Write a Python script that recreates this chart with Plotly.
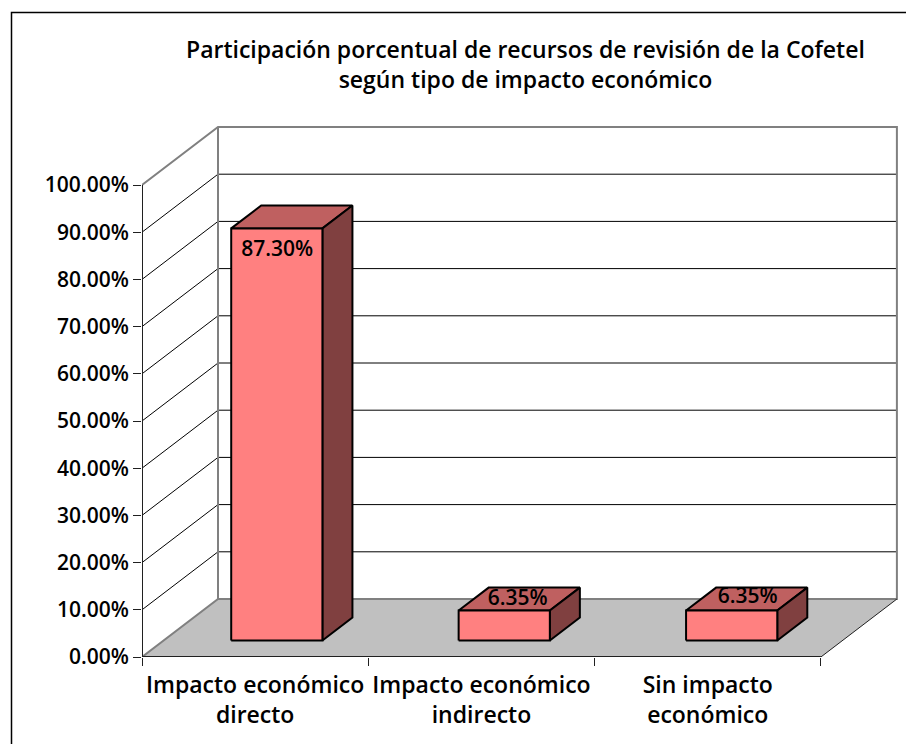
import plotly.graph_objects as go

categories = ["Impacto económico<br>directo", "Impacto económico<br>indirecto", "Sin impacto<br>económico"]
values = [87.30, 6.35, 6.35]
value_labels = ["87.30%", "6.35%", "6.35%"]
y_ticks = [0, 10, 20, 30, 40, 50, 60, 70, 80, 90, 100]
title_text = "Participación porcentual de recursos de revisión de la Cofetel<br>según tipo de impacto económico"

PAGE = 8                       # browser's default body margin
W, H = 914 - PAGE, 744 - PAGE
ML, MB = 142 - PAGE, 87
PX_X, PX_Y = 226.3, 4.72       # pixels per category / per percent
DX, DY = 76 / PX_X, 58 / PX_Y  # oblique depth vector, axis units
BAR_W, D0, D1 = 0.403, 0.285, 0.68
BAR_DRIFT = 0.005
FONT = "Open Sans"
WEIGHT = 600


def proj(x, y, d=0.0):
    return x + d * DX, y + d * DY


def poly(points, fill=None, color="#000000", width=1, close=False):
    pts = [proj(*p) for p in points]
    if close:
        pts.append(pts[0])
    return go.Scatter(
        x=[p[0] for p in pts], y=[p[1] for p in pts], mode="lines",
        line=dict(color=color, width=width), fill="toself" if fill else None,
        fillcolor=fill, hoverinfo="skip", showlegend=False, cliponaxis=False,
    )


n = len(categories)
top = y_ticks[-1]
fig = go.Figure()

# floor
fig.add_trace(poly([(0, 0, 0), (n, 0, 0), (n, 0, 1), (0, 0, 1)], fill="#C0C0C0", color="rgba(0,0,0,0)", close=True))
# gridlines on side and back wall
for t in y_ticks[1:-1]:
    fig.add_trace(poly([(0, t, 0), (0, t, 1), (n, t, 1)]))
# wall outlines
fig.add_trace(poly([(0, top, 0), (0, top, 1), (n, top, 1), (n, 0, 1), (0, 0, 1), (0, 0, 0)], color="#808080", width=2))
fig.add_trace(poly([(0, top, 1), (0, 0, 1)], color="#808080", width=2))
fig.add_trace(poly([(n, 0, 0), (n, 0, 1)], color="#202020", width=1))
# front axes
fig.add_trace(poly([(0, top, 0), (0, 0, 0), (n, 0, 0)], color="#202020", width=2))

# bars
for i, v in enumerate(values):
    c = i + 0.5 + BAR_DRIFT * i
    l, r = c - BAR_W / 2, c + BAR_W / 2
    fig.add_trace(poly([(l, v, D0), (r, v, D0), (r, v, D1), (l, v, D1)], fill="#BF6060", width=2, close=True))
    fig.add_trace(poly([(r, 0, D0), (r, v, D0), (r, v, D1), (r, 0, D1)], fill="#804040", width=2, close=True))
    fig.add_trace(poly([(l, 0, D0), (r, 0, D0), (r, v, D0), (l, v, D0)], fill="#FF8080", width=2, close=True))

# value labels
label_x = [0.597, 1.66, 2.677]
label_y = [86.0, 12.1, 12.5]
fig.add_trace(go.Scatter(
    x=label_x, y=label_y, mode="text", text=value_labels, textposition="middle center",
    textfont=dict(family=FONT, size=21, color="#000000", weight=WEIGHT),
    hoverinfo="skip", showlegend=False, cliponaxis=False,
))

fig.update_layout(
    width=W, height=H, autosize=False,
    margin=dict(l=ML, r=0, t=0, b=MB, autoexpand=False),
    paper_bgcolor="#FFFFFF", plot_bgcolor="rgba(0,0,0,0)", showlegend=False,
    font=dict(family=FONT, size=21, color="#000000", weight=WEIGHT),
    xaxis=dict(
        range=[0, (W - ML) / PX_X], showgrid=False, zeroline=False, showline=False,
        tickmode="array", tickvals=[i + 0.5 for i in range(n)], ticktext=categories,
        ticks="", ticklabelstandoff=12,
        minor=dict(tickmode="array", tickvals=list(range(n + 1)), ticks="outside", ticklen=8, tickcolor="#202020", tickwidth=1),
        tickfont=dict(family=FONT, size=23, color="#000000", weight=WEIGHT),
    ),
    yaxis=dict(
        range=[0, (H - MB) / PX_Y], showgrid=False, zeroline=False, showline=False,
        tickmode="array", tickvals=y_ticks, ticktext=[f"{t:.2f}%" for t in y_ticks],
        ticks="outside", ticklen=8, tickcolor="#202020", tickwidth=1,
        tickfont=dict(family=FONT, size=21, color="#000000", weight=WEIGHT),
    ),
    annotations=[dict(
        text=title_text, xref="paper", yref="paper", x=(525 - PAGE - ML) / (W - ML), y=1 - (64 - PAGE) / (H - MB),
        xanchor="center", yanchor="middle", showarrow=False, align="center",
        font=dict(family=FONT, size=23, color="#000000", weight=WEIGHT),
    )],
    shapes=[dict(
        type="rect", xref="paper", yref="paper",
        x0=(11.5 - PAGE - ML) / (W - ML), x1=(920 - ML) / (W - ML),
        y0=(H - MB - 760) / (H - MB), y1=(H - MB - 4.5) / (H - MB),
        line=dict(color="#000000", width=1.5), fillcolor="rgba(0,0,0,0)", layer="below",
    )],
)

fig.write_html("out.html")
